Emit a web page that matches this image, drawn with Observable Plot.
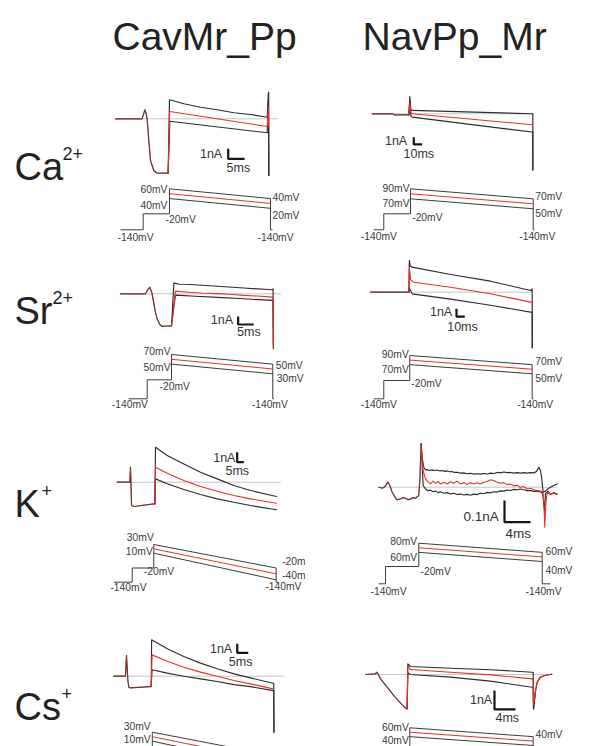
<!DOCTYPE html>
<html><head><meta charset="utf-8">
<script src="https://cdn.jsdelivr.net/npm/d3@7"></script>
<script src="https://cdn.jsdelivr.net/npm/@observablehq/plot@0.6"></script>
<style>
body{margin:0;background:#fff;}
#fig{position:relative;width:597px;height:746px;overflow:hidden;background:#fff;}
#fig svg{position:absolute;left:0;top:0;}
</style></head><body><div id="fig"></div>
<script>
// ================= DATA (time in ms, current in nA, voltage in mV) =================
const columnTitles = ["CavMr_Pp", "NavPp_Mr"];
const ionNames = ["Ca", "Sr", "K", "Cs"];
const ionCharges = ["2+", "2+", "+", "+"];

// --- Ca2+ / CavMr_Pp ---
const caCavPre = [[0,0],[8.15,0],[8.6,0.5],[8.97,0.9],[9.3,0.6],[9.68,0],[10.2,-2.2],[10.7,-4.17],[11.72,-5.17],[12.5,-5.4],[13.25,-5.44],[16.1,-5.44]];
const caCavTop = [[16.1,-5.44],[16.51,1.9],[20.9,1.5],[26,1.16],[31.1,0.9],[36.2,0.6],[41.3,0.43],[46.4,0.16],[46.8,2.66],[46.9,-5.67]];
const caCavRed = [[16.1,-5.44],[16.55,0.73],[46.4,-0.77],[46.8,1.2],[46.85,-0.8]];
const caCavBot = [[16.1,-5.44],[16.6,-0.24],[46.4,-1.4],[46.8,2.66],[46.9,-5.67]];
const caCavBaseEnd = 49.44;
const caCavBar = [1, 5];
const caCavVolts = [-140, -20, 60, 40, 50, 30, 40, 20];
const caCavTimes = [1.53, 8.47, 16.51, 47.4, 48];

// --- Ca2+ / NavPp_Mr ---
const caNavPre = [[0,0],[25,0],[26,-0.14],[43.6,-0.14]];
const caNavTop = [[43.6,-0.14],[44.8,2.37],[46,0.6],[47.6,0.46],[190.4,0],[191.2,0],[191.3,-7.7]];
const caNavRed = [[43.6,-0.14],[44.8,1.5],[46,0.2],[47.6,0],[190.4,-1.5],[191.2,-1.5]];
const caNavBot = [[43.6,-0.14],[44.8,1.8],[46,-0.3],[47.6,-0.46],[190.4,-2.5],[191.2,-2.5],[191.3,-7.7]];
const caNavBaseEnd = 192.4;
const caNavBar = [1, 10];
const caNavVolts = [-140, -20, 90, 70, 80, 60, 70, 50];
const caNavTimes = [1.9, 13.8, 45.6, 191.7, 193];

// --- Sr2+ / CavMr_Pp ---
const srCavPre = [[0,0],[8,0],[8.7,0.5],[9.4,0.83],[9.8,0.4],[10.15,0],[10.5,-0.83],[11.2,-2.29],[11.75,-3.12],[12.6,-3.83],[13.35,-4.08],[16,-4.0],[16.35,-4.0]];
const srCavTop = [[16.35,-4],[17.1,1.33],[19,1.2],[22.4,1.16],[31,0.95],[39.5,0.72],[48.6,0.5],[48.9,0.62],[49,-6.88]];
const srCavRed = [[16.35,-4],[17.6,0.33],[22,0.2],[26,0.1],[31,0.02],[35,-0.05],[39.5,-0.2],[44,-0.28],[48.6,-0.42],[48.9,-0.42],[49,-6.88]];
const srCavBot = [[16.35,-4],[17.6,-0.17],[24,-0.3],[31,-0.45],[39.5,-0.62],[48.6,-0.83],[48.9,-0.83],[49,-6.5]];
const srCavBaseEnd = 51.3;
const srCavBar = [1, 5];
const srCavVolts = [-140, -20, 70, 50, 60, 40, 50, 30];
const srCavTimes = [2.66, 8.56, 16.35, 48.8, 49.2];

// --- Sr2+ / NavPp_Mr ---
const srNavPre = [[0,0],[44.2,0],[46.2,0]];
const srNavTop = [[46.2,0],[46.8,4.12],[48,3.4],[50.2,3.25],[96.4,2.3],[144.6,1.43],[192.8,0.22],[194.8,0.43],[194.9,-7.23]];
const srNavRed = [[46.2,0],[46.8,3.0],[47.4,2.6],[48.5,1.6],[52.2,1.3],[96.4,0.65],[144.6,-0.2],[192.8,-1.29],[194.8,-1.29]];
const srNavBot = [[46.2,0],[46.8,0.5],[50.2,-0.21],[96.4,-0.9],[144.6,-1.7],[192.8,-2.59],[194.8,-2.59],[194.9,-7.23]];
const srNavBaseEnd = 194.8;
const srNavBar = [1, 10];
const srNavVolts = [-140, -20, 90, 70, 80, 60, 70, 50];
const srNavTimes = [4.0, 16.0, 47.3, 194.8, 196.4];

// --- K+ / CavMr_Pp ---
const kCavPre = [[0,0],[9.5,0],[10,1.5],[10.8,-2.33],[12.5,-2.43],[27.5,-2.16],[28.3,-2.16]];
const kCavTop = [[28.3,-2.16],[28.8,3.5],[37.6,2.67],[50.1,1.83],[62.6,1.0],[75.2,0.33],[87.7,-0.33],[100.2,-0.83],[119.8,-1.43]];
const kCavRed = [[28.3,-2.16],[28.8,1.5],[37.6,0.9],[50.1,0.17],[62.6,-0.43],[75.2,-0.9],[87.7,-1.33],[100.2,-1.67],[119.8,-2.1]];
const kCavBot = [[28.3,-2.16],[28.8,0.33],[37.6,-0.16],[50.1,-0.73],[62.6,-1.23],[75.2,-1.67],[87.7,-2.0],[100.2,-2.33],[119.8,-2.76]];
const kCavBaseEnd = 122.8;
const kCavBar = [1, 5];
const kCavVolts = [-140, -20, 30, -20, 20, -30, 10, -40];
const kCavTimes = [-2.6, 11.3, 27.5, 119.5, 121];

// --- K+ / NavPp_Mr ---
const kNavPre = [[0,0],[0.52,-0.005],[0.98,0.003],[1.21,0.015],[1.44,0.023],[1.7,0.008],[2.06,-0.023],[2.57,-0.049],[2.83,-0.058],[3.33,-0.054],[3.74,-0.048],[4.1,-0.051],[4.46,-0.057],[4.87,-0.055],[5.28,-0.048],[5.64,-0.051],[6.15,-0.038],[6.31,0.031],[6.52,0.2]];
const kNavTop = [[6.52,0.2],[6.67,0.138],[6.92,0.092],[7.18,0.079],[7.44,0.081],[7.8,0.077],[8.21,0.08],[8.56,0.077],[8.97,0.079],[9.38,0.075],[9.74,0.077],[10.15,0.073],[10.51,0.075],[10.92,0.071],[11.28,0.072],[11.64,0.068],[12.05,0.069],[12.56,0.065],[13.08,0.066],[13.59,0.062],[14.1,0.064],[14.62,0.06],[15.13,0.062],[15.64,0.06],[16.15,0.063],[16.67,0.061],[17.18,0.065],[17.69,0.063],[18.2,0.068],[18.72,0.066],[19.23,0.07],[19.74,0.067],[20.26,0.068],[20.77,0.065],[21.28,0.067],[21.79,0.065],[22.31,0.067],[22.82,0.065],[23.33,0.067],[23.85,0.066],[24.26,0.072],[24.62,0.092],[24.87,0.077],[25.08,0.038],[25.28,-0.023],[25.64,-0.018],[26.0,-0.008],[26.41,0],[26.92,0.008],[27.44,0.015]];
const kNavRed = [[6.52,0.184],[6.82,0.077],[7.18,0.038],[7.54,0.026],[7.95,0.015],[8.36,0.028],[8.72,0.018],[9.13,0.026],[9.49,0.015],[10.0,0.023],[10.51,0.015],[11.03,0.025],[11.54,0.018],[12.05,0.028],[12.56,0.015],[13.08,0.021],[13.59,0.012],[14.1,0.02],[14.62,0.015],[15.13,0.021],[15.64,0.015],[16.15,0.023],[16.67,0.026],[17.18,0.034],[17.69,0.031],[18.2,0.023],[18.72,0.018],[19.23,0.021],[19.74,0.012],[20.26,0.015],[20.77,0.006],[21.28,0.009],[21.79,0],[22.31,0.003],[22.82,-0.008],[23.33,-0.005],[23.85,-0.012],[24.36,-0.015],[24.87,-0.018],[25.23,-0.023],[25.38,-0.061],[25.54,-0.184],[25.7,-0.077],[25.9,-0.023],[26.41,-0.034],[26.92,-0.028],[27.44,-0.034]];
const kNavBot = [[6.52,0.2],[6.82,0.008],[7.18,-0.008],[7.54,-0.016],[7.95,-0.014],[8.36,-0.021],[8.72,-0.018],[9.13,-0.025],[9.49,-0.021],[10.0,-0.028],[10.51,-0.025],[11.03,-0.031],[11.54,-0.028],[12.05,-0.034],[12.56,-0.031],[13.08,-0.036],[13.59,-0.033],[14.1,-0.037],[14.62,-0.032],[15.13,-0.034],[15.64,-0.028],[16.15,-0.03],[16.67,-0.024],[17.18,-0.026],[17.69,-0.021],[18.2,-0.023],[18.72,-0.017],[19.23,-0.018],[19.74,-0.013],[20.26,-0.015],[20.77,-0.01],[21.28,-0.012],[21.79,-0.008],[22.31,-0.012],[22.82,-0.016],[23.33,-0.015],[23.85,-0.019],[24.36,-0.018],[24.87,-0.022],[25.23,-0.028],[25.38,-0.077],[25.49,-0.108],[25.64,-0.031],[26.0,-0.018],[26.41,-0.034],[26.92,-0.025],[27.44,-0.031]];
const kNavBaseEnd = 27.44;
const kNavBar = [0.1, 4];
const kNavVolts = [-140, -20, 80, 60, 70, 50, 60, 40];
const kNavTimes = [0, 1.03, 6.15, 25.14, 26.4];

// --- Cs+ / CavMr_Pp ---
const csCavPre = [[0,0],[5.3,0],[5.77,2.3],[6.4,-0.5],[6.83,-1.22],[7.6,-1.3],[16.4,-1.15],[17.0,-1.15]];
const csCavTop = [[17,-1.15],[17.2,4.04],[24.3,3.04],[31.8,2.19],[39.4,1.45],[47,0.82],[54.6,0.26],[62.1,-0.19],[72.4,-0.78],[72.7,-0.78],[72.8,-6.22]];
const csCavRed = [[17,-1.15],[17.4,2.37],[24.3,1.67],[31.8,1.0],[39.4,0.45],[47,0],[54.6,-0.48],[62.1,-0.85],[72.4,-1.41]];
const csCavBot = [[17,-1.15],[17.4,0.71],[24.3,0.34],[31.8,0],[39.4,-0.3],[47,-0.59],[54.6,-0.93],[62.1,-1.16],[72.4,-1.6],[72.7,-1.6],[72.8,-6.22]];
const csCavBaseEnd = 77.3;
const csCavBar = [1, 5];
const csCavVolts = [-140, -20, 30, -20, 20, -30, 10, -40];
const csCavTimes = [0, 8.2, 17.5, 72.7, 74];

// --- Cs+ / NavPp_Mr ---
const csNavPre = [[0,0],[1.9,0.035],[2.1,0.12],[2.4,0.03],[2.86,-0.23],[4.13,-0.67],[5.4,-1.11],[6.67,-1.51],[7.62,-1.77],[7.94,-1.8]];
const csNavTop = [[7.94,-1.8],[8.06,0.56],[8.57,0.42],[16.2,0.33],[23.8,0.25],[31.75,0.12],[31.94,0.1],[32.0,-1.81],[32.4,-0.84],[32.7,-0.4],[33.3,-0.14],[34.3,-0.04],[35.2,0],[35.5,0.02]];
const csNavRed = [[7.94,-1.8],[8.06,0.45],[8.57,0.26],[16.2,0.12],[23.8,-0.02],[31.75,-0.23],[31.94,-0.3],[32.0,-1.6],[32.4,-0.84],[32.7,-0.4],[33.3,-0.14],[34.3,-0.04],[35.2,0]];
const csNavBot = [[7.94,-1.8],[8.06,0.1],[8.57,0],[16.2,-0.14],[23.8,-0.35],[31.75,-0.67],[31.94,-0.7],[32.0,-1.81],[32.4,-0.84]];
const csNavBaseEnd = 35.5;
const csNavBar = [1, 4];
const csNavVolts = [-140, -20, 60, 40, 50, 30, 40, 20];
const csNavTimes = [1.5, 3.4, 8.44, 31.94, 33];

// ================= LAYOUT (pixel placement / styling only) =================
const W = 597, H = 746;
const FONT = "'Liberation Sans', Arial, Helvetica, sans-serif";
const BLACK = "#2c2c2c", RED = "#e8302a", GRAY = "#c6c6c6", PROTO = "#3c3c3c";

// mvD/mvR: schematic (piecewise) placement of the voltage-protocol levels
const L = {
  caCav: {x0:115, kt:3.27, y0:118.3, ki:10, mvD:[-140,-20,20,60], mvR:[229.3,213.3,207.8,188.3], bar:[34.47,-4], barLab:[[-6,-5],[-1.7,9]],
          pl:[[-2,1],[-2,7],[-4,6],[-3,8],[2,-1],[2,7],[-13,8]]},
  caNav: {x0:371.7, kt:0.84, y0:113.3, ki:7.3, mvD:[-140,-20,50,90], mvR:[229.3,213.3,208.3,188.3], bar:[49.5,-4.2], barLab:[[-6.6,-3.3],[-10.3,10]],
          pl:[[-1,0],[-1,5],[1.7,4],[-13,7],[2,-2],[2,5],[-14,7]]},
  srCav: {x0:120, kt:3.12, y0:293.3, ki:8, mvD:[-140,-20,30,70], mvR:[398.3,379.3,373.3,354], bar:[37.7,-3.84], barLab:[[-5,-4.7],[-1,7.7]],
          pl:[[-1,-3],[-1,4],[-12,7],[-17,6],[3,2],[4,5],[-21,6]]},
  srNav: {x0:370, kt:0.83, y0:291.7, ki:7.7, mvD:[-140,-20,50,90], mvR:[398.3,380,373.3,355], bar:[103.6,-3.16], barLab:[[-4.3,-4.3],[-9.3,10.7]],
          pl:[[-1,-1],[-1,5],[1.5,3],[-13,6],[3,-2.5],[3,5],[-15,6]]},
  kCav:  {x0:116.7, kt:1.33, y0:481.7, ki:10, mvD:[-140,-40,-20,10,30], mvR:[581.7,579.3,567.5,552.7,544], bar:[90.2,2.0], barLab:[[-1.7,-4.4],[-11.7,8.3]],
          pl:[[0,-6.7],[-1,-1],[-10,4],[-3.3,6],[6,-6],[6,-4.3],[-10.7,5]], protoWidth:305},
  kNav:  {x0:378.3, kt:6.5, y0:486.7, ki:217, mvD:[-140,-20,40,80], mvR:[583.3,566,561,542.7], bar:[19.34,-0.161], barLab:[[-5.7,-5],[1,11.6]], barFont:13.5,
          pl:[[-1.6,-1],[-1.6,5],[1.7,5],[-8.3,8],[3.3,-1],[3.3,9],[-16.7,8]]},
  csCav: {x0:113.3, kt:2.2, y0:675.7, ki:9, mvD:[-140,-40,-20,10,30], mvR:[769,766.5,755,740.7,731.7], bar:[56.1,2.6], barLab:[[-5,-4],[-8.4,9.4]],
          pl:[[-1.7,-5.7],[-1.7,-1.7],[-10,4],[-3,6],[8.4,-6],[8.4,-4],[-10,5]]},
  csNav: {x0:365, kt:5.25, y0:674, ki:19, mvD:[-140,-20,20,60], mvR:[769,753,745,727.3], bar:[24.57,-1.84], barLab:[[-2.3,-9],[1,8.3]],
          pl:[[-1,0],[-1,4],[2,4],[-13,7],[2.3,-2],[2.3,5],[-14,7]]}
};

const titleX = [112, 362], titleY = 37, titleSize = 39;
const ionX = 14, ionY = [167, 311, 504, 707], ionSize = 38;
const supX = [62, 52, 41, 61], supDy = -13, supSize = 18;

// ================= DRAWING =================
const fig = document.getElementById("fig");
const px = d => d[0], py = d => d[1];

function tracePlot(Lo, pre, top, red, bot, baseEnd, bar) {
  const barPts = [[Lo.bar[0], Lo.bar[1] + bar[0]], [Lo.bar[0], Lo.bar[1]], [Lo.bar[0] + bar[1], Lo.bar[1]]];
  const labs = [{t: Lo.bar[0], i: Lo.bar[1], s: `${bar[0]}nA`}, {t: Lo.bar[0], i: Lo.bar[1], s: `${bar[1]}ms`}];
  const fs = Lo.barFont || 12.5;
  return Plot.plot({
    width: W, height: H, margin: 0,
    style: {background: "transparent", overflow: "visible"},
    x: {domain: [-Lo.x0 / Lo.kt, (W - Lo.x0) / Lo.kt], range: [0, W], axis: null},
    y: {domain: [(Lo.y0 - H) / Lo.ki, Lo.y0 / Lo.ki], range: [H, 0], axis: null},
    marks: [
      Plot.line([[0, 0], [baseEnd, 0]], {x: px, y: py, stroke: GRAY, strokeWidth: 1}),
      Plot.line(top, {x: px, y: py, stroke: BLACK, strokeWidth: 1.15}),
      Plot.line(bot, {x: px, y: py, stroke: BLACK, strokeWidth: 1.15}),
      Plot.line(pre, {x: px, y: py, stroke: BLACK, strokeWidth: 1.2}),
      Plot.line(pre, {x: px, y: py, stroke: RED, strokeWidth: 1, strokeOpacity: 0.45}),
      Plot.line(red, {x: px, y: py, stroke: RED, strokeWidth: 1.1}),
      Plot.line(barPts, {x: px, y: py, stroke: "#151515", strokeWidth: 2.2, strokeLinecap: "butt", strokeLinejoin: "miter"}),
      Plot.text([labs[0]], {x: "t", y: "i", text: "s", textAnchor: "end", dx: Lo.barLab[0][0], dy: Lo.barLab[0][1], fontSize: fs, fill: "#333", fontFamily: FONT}),
      Plot.text([labs[1]], {x: "t", y: "i", text: "s", textAnchor: "start", dx: Lo.barLab[1][0], dy: Lo.barLab[1][1], fontSize: fs, fill: "#333", fontFamily: FONT})
    ]
  });
}

function protoPlot(Lo, volts, times) {
  const [hold, pre, top0, top1, mid0, mid1, bot0, bot1] = volts;
  const [tS, tP, tT, tE, tTail] = times;
  const wid = Lo.protoWidth || W;
  // schematic voltage axis: piecewise-linear d3 scale from mV to pixel rows
  const mv = d3.scaleLinear().domain(Lo.mvD).range(Lo.mvR);
  const vy = d => mv(d[1]);
  const step = [[tS, hold], [tP, hold], [tP, pre], [tT, pre], [tT, top0]];
  const topL = [[tT, top0], [tE, top1], [tE, hold], [tTail, hold]];
  const midL = [[tT, mid0], [tE, mid1]];
  const botL = [[tT, bot0], [tE, bot1]];
  const labels = [
    {t: tT, v: top0, a: "end"}, {t: tT, v: bot0, a: "end"}, {t: tT, v: pre, a: "start"},
    {t: tS, v: hold, a: "start"}, {t: tE, v: top1, a: "start"}, {t: tE, v: bot1, a: "start"},
    {t: tE, v: hold, a: "start"}
  ].map((d, k) => ({...d, s: `${d.v}mV`, dx: Lo.pl[k][0], dy: Lo.pl[k][1]}))
   .filter(d => mv(d.v) + d.dy < H + 3);
  return Plot.plot({
    width: wid, height: H, margin: 0,
    style: {background: "transparent", overflow: Lo.protoWidth ? "hidden" : "visible"},
    x: {domain: [-Lo.x0 / Lo.kt, (wid - Lo.x0) / Lo.kt], range: [0, wid], axis: null},
    y: {type: "identity", axis: null},
    marks: [
      Plot.line(step, {x: px, y: vy, stroke: PROTO, strokeWidth: 1, strokeLinecap: "butt"}),
      Plot.line(topL, {x: px, y: vy, stroke: PROTO, strokeWidth: 1, strokeLinecap: "butt"}),
      Plot.line(botL, {x: px, y: vy, stroke: PROTO, strokeWidth: 1, strokeLinecap: "butt"}),
      Plot.line(midL, {x: px, y: vy, stroke: RED, strokeWidth: 1, strokeLinecap: "butt"}),
      ...labels.map(d => Plot.text([d], {x: "t", y: e => mv(e.v), text: "s", textAnchor: d.a, dx: d.dx, dy: d.dy,
        fontSize: 10.3, fill: "#3a3a3a", fontFamily: FONT}))
    ]
  });
}

const panels = [
  [L.caCav, caCavPre, caCavTop, caCavRed, caCavBot, caCavBaseEnd, caCavBar, caCavVolts, caCavTimes],
  [L.caNav, caNavPre, caNavTop, caNavRed, caNavBot, caNavBaseEnd, caNavBar, caNavVolts, caNavTimes],
  [L.srCav, srCavPre, srCavTop, srCavRed, srCavBot, srCavBaseEnd, srCavBar, srCavVolts, srCavTimes],
  [L.srNav, srNavPre, srNavTop, srNavRed, srNavBot, srNavBaseEnd, srNavBar, srNavVolts, srNavTimes],
  [L.kCav, kCavPre, kCavTop, kCavRed, kCavBot, kCavBaseEnd, kCavBar, kCavVolts, kCavTimes],
  [L.kNav, kNavPre, kNavTop, kNavRed, kNavBot, kNavBaseEnd, kNavBar, kNavVolts, kNavTimes],
  [L.csCav, csCavPre, csCavTop, csCavRed, csCavBot, csCavBaseEnd, csCavBar, csCavVolts, csCavTimes],
  [L.csNav, csNavPre, csNavTop, csNavRed, csNavBot, csNavBaseEnd, csNavBar, csNavVolts, csNavTimes]
];

// titles and ion labels
const titleData = columnTitles.map((s, k) => ({x: titleX[k], y: titleY, s}));
const ionData = ionNames.map((s, k) => ({x: ionX, y: ionY[k], s}));
const supData = ionCharges.map((s, k) => ({x: supX[k], y: ionY[k] + supDy, s}));
fig.appendChild(Plot.plot({
  width: W, height: H, margin: 0,
  style: {background: "transparent", overflow: "visible"},
  x: {domain: [0, W], range: [0, W], axis: null},
  y: {domain: [0, H], range: [0, H], axis: null},
  marks: [
    Plot.text(titleData, {x: "x", y: "y", text: "s", textAnchor: "start", fontSize: titleSize, fill: "#222", fontFamily: FONT}),
    Plot.text(ionData, {x: "x", y: "y", text: "s", textAnchor: "start", fontSize: ionSize, fill: "#222", fontFamily: FONT}),
    Plot.text(supData, {x: "x", y: "y", text: "s", textAnchor: "start", fontSize: supSize, fill: "#222", fontFamily: FONT})
  ]
}));

for (const p of panels) {
  fig.appendChild(tracePlot(p[0], p[1], p[2], p[3], p[4], p[5], p[6]));
  fig.appendChild(protoPlot(p[0], p[7], p[8]));
}
</script></body></html>
